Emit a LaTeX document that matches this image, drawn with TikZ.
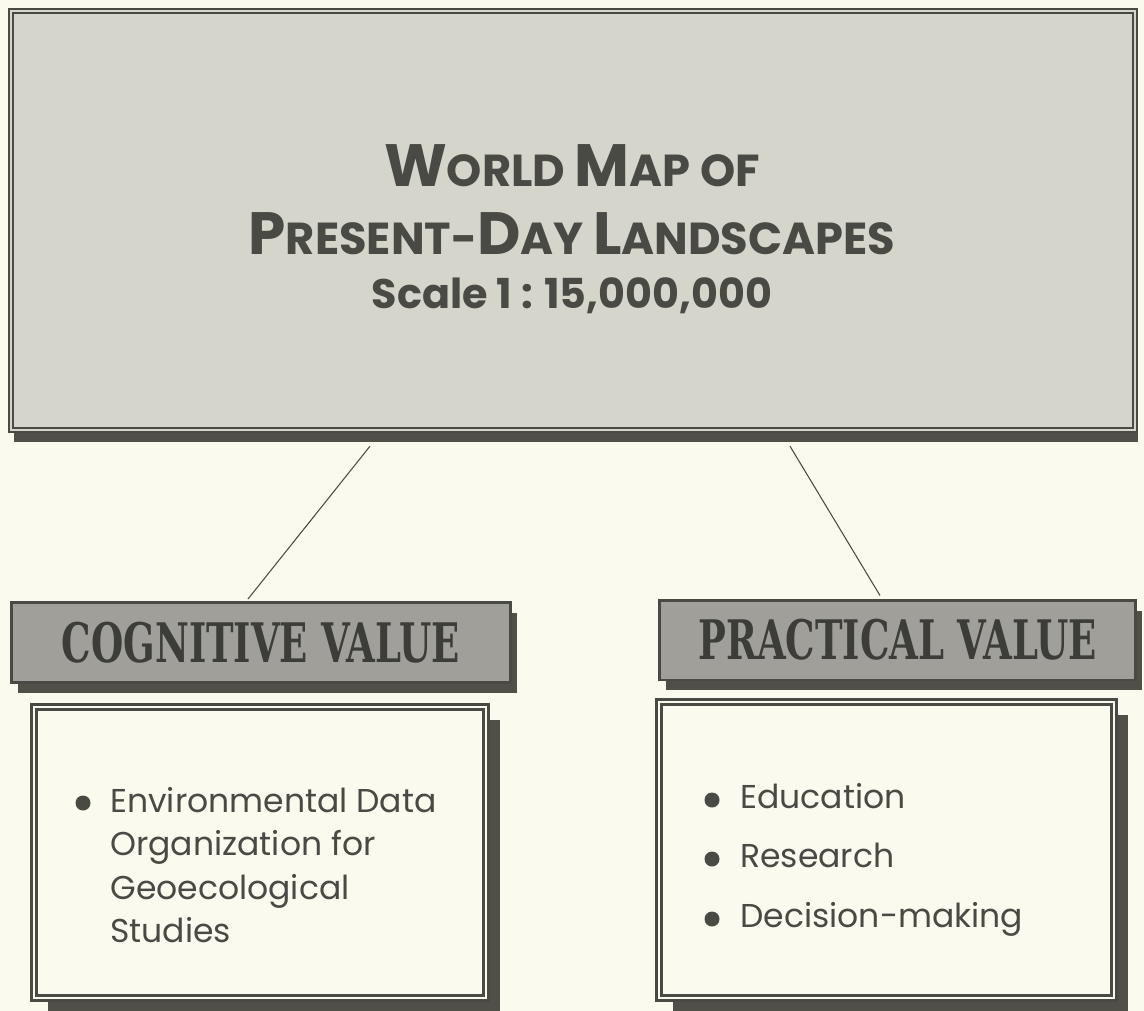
\documentclass[tikz,border=0pt]{standalone}
\usepackage{fontspec}
\usepackage{tikz}
\usetikzlibrary{positioning, calc, shadows}
\setmainfont{Poppins}
\newfontfamily\headfont[FakeStretch=0.68]{DejaVu Serif Bold}
\definecolor{MapPaper}{HTML}{FBFAEF}
\definecolor{MapInk}{HTML}{4A4A45}
\definecolor{MapShade}{HTML}{505049}
\definecolor{MapFill}{HTML}{D5D5CC}
\definecolor{HeadFill}{HTML}{A09F99}
\definecolor{HeadInk}{HTML}{3C3C38}
% larger initial letters for the title lines
\newcommand{\bigini}[1]{{\fontsize{34}{34}\selectfont #1}}

\begin{document}
\begin{tikzpicture}[x=0.02cm, y=-0.02cm,
    mapbox/.style={
      rectangle, draw=MapInk, double=MapFill, double distance=1pt,
      line width=1.4pt, fill=MapFill, minimum width=22.48cm,
      minimum height=8.38cm,
      drop shadow={shadow xshift=0.06cm, shadow yshift=-0.24cm,
        fill=MapShade, opacity=1}
    },
    headbox/.style={
      rectangle, draw=MapInk, line width=1.7pt, fill=HeadFill,
      minimum height=1.6cm, text=HeadInk,
      font=\headfont\fontsize{31}{31}\selectfont,
      drop shadow={shadow xshift=0.13cm, shadow yshift=-0.21cm,
        fill=MapShade, opacity=1}
    },
    listbox/.style={
      rectangle, draw=MapInk, double=MapPaper, double distance=1.6pt,
      line width=1.6pt, fill=MapPaper,
      drop shadow={shadow xshift=0.28cm, shadow yshift=-0.26cm,
        fill=MapShade, opacity=1}
    },
    titletext/.style={text=MapInk, inner sep=0pt,
      font=\bfseries\fontsize{25.5}{25.5}\selectfont},
    itemtext/.style={text=MapInk, inner sep=0pt, align=left,
      font=\fontsize{18.8}{24.7}\selectfont},
    link/.style={draw=MapInk, line width=0.6pt}
  ]
    \fill[MapPaper] (0,0) rectangle (1144,1011);
    \useasboundingbox (0,0) rectangle (1144,1011);

    % main title box
    \node[mapbox] (map) at (573,220.5) {};
    \node[titletext] (t1) at (572,166) {\bigini{W}ORLD \bigini{M}AP OF};
    \node[titletext] (t2) at (572,234) {\bigini{P}RESENT-\bigini{D}AY \bigini{L}ANDSCAPES};
    \node[titletext, font=\bfseries\fontsize{23.5}{23.5}\selectfont] (t3) at (572,296)
      {Scale 1 : 15,000,000};

    % the two value headers
    \node[headbox, minimum width=9.98cm] (cog) at (261,642.5) {COGNITIVE VALUE};
    \node[headbox, minimum width=9.52cm] (prac) at (897.5,640) {PRACTICAL VALUE};

    % list boxes
    \node[listbox, minimum width=9.04cm, minimum height=5.82cm] (coglist) at (260,852.5) {};
    \node[listbox, minimum width=9.1cm, minimum height=5.92cm] (praclist) at (886.5,850) {};

    \node[itemtext, anchor=north west] (env) at (110,787)
      {Environmental Data\\Organization for\\Geoecological\\Studies};
    \node[itemtext, anchor=base west] (edu) at (740,808) {Education};
    \node[itemtext, anchor=base west] (res) at (740,867) {Research};
    \node[itemtext, anchor=base west] (dec) at (740,927) {Decision-making};

    % bullets
    \fill[MapInk] ($(env.north west)+(-27,16)$) circle (7.5);
    \foreach \it in {edu,res,dec}
      \fill[MapInk] ($(\it.base west)+(-28,-8)$) circle (7.5);

    % connectors
    \draw[link] ($(map.south)+(-203,15)$) -- ($(cog.north)+(-13,-2)$);
    \draw[link] ($(map.south)+(217,15)$) -- ($(prac.north)+(-17.5,-3)$);
  \end{tikzpicture}
\end{document}
